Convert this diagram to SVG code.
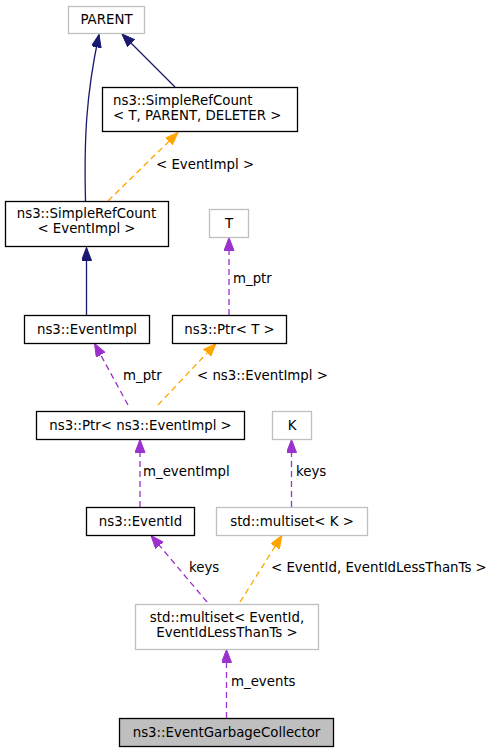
<svg xmlns="http://www.w3.org/2000/svg" width="497" height="752" viewBox="0 0 497 752">
<style>
text{font-family:"DejaVu Sans","Liberation Sans",sans-serif;font-size:13.33px;fill:#000}
.c{text-anchor:middle}
.doc{fill:#fff;stroke:#000;stroke-width:1.3}
.und{fill:#fff;stroke:#bfbfbf;stroke-width:1.3}
.cur{fill:#bfbfbf;stroke:#000;stroke-width:1.3}
.e{fill:none;stroke-width:1.3}
.inh{stroke:#191970}
.tpl{stroke:#ffa500;stroke-dasharray:6,4}
.use{stroke:#9a32cd;stroke-dasharray:6,4}
</style>
<defs>
<marker id="aN" markerUnits="userSpaceOnUse" markerWidth="14" markerHeight="11" refX="13" refY="5" orient="auto"><path d="M0,0L13,5L0,10z" fill="#191970" stroke="#191970"/></marker>
<marker id="aO" markerUnits="userSpaceOnUse" markerWidth="14" markerHeight="11" refX="13" refY="5" orient="auto"><path d="M0,0L13,5L0,10z" fill="#ffa500" stroke="#ffa500"/></marker>
<marker id="aP" markerUnits="userSpaceOnUse" markerWidth="14" markerHeight="11" refX="13" refY="5" orient="auto"><path d="M0,0L13,5L0,10z" fill="#9a32cd" stroke="#9a32cd"/></marker>
</defs>
<rect width="497" height="752" fill="#fff"/>
<g id="connectors">
<path class="e inh" d="M85.5,201 C84,140 86,95 99,34.5" marker-end="url(#aN)"/>
<path class="e inh" d="M175,87 L122,34" marker-end="url(#aN)"/>
<path class="e tpl" d="M108,201 L178,132.5" marker-end="url(#aO)"/>
<text x="156" y="169">&lt; EventImpl &gt;</text>
<path class="e inh" d="M86.5,315 L86.5,247.5" marker-end="url(#aN)"/>
<path class="e use" d="M229,315 L229,237.5" marker-end="url(#aP)"/>
<text x="233" y="283">m_ptr</text>
<path class="e use" d="M128,405 L94.5,343.5" marker-end="url(#aP)"/>
<text x="123" y="380">m_ptr</text>
<path class="e tpl" d="M158,405 L216,343.5" marker-end="url(#aO)"/>
<text x="197" y="380">&lt; ns3::EventImpl &gt;</text>
<path class="e use" d="M140,507 L140,439.5" marker-end="url(#aP)"/>
<text x="143" y="476">m_eventImpl</text>
<path class="e use" d="M291.5,507 L291.5,439.5" marker-end="url(#aP)"/>
<text x="296" y="476">keys</text>
<path class="e use" d="M207,602 L151,535.5" marker-end="url(#aP)"/>
<text x="189" y="572">keys</text>
<path class="e tpl" d="M240,602 L282,535.5" marker-end="url(#aO)"/>
<text x="271" y="572">&lt; EventId, EventIdLessThanTs &gt;</text>
<path class="e use" d="M226.5,718 L226.5,649.5" marker-end="url(#aP)"/>
<text x="231" y="686">m_events</text>
</g>
<g id="node-parent"><rect class="und" x="68.5" y="6.5" width="76" height="27"/><text class="c" x="106.5" y="24">PARENT</text></g>
<g id="node-simplerefcount-t"><rect class="doc" x="102.5" y="87.5" width="195" height="44"/><text x="113" y="104.5">ns3::SimpleRefCount</text><text x="113" y="119.5">&lt; T, PARENT, DELETER &gt;</text></g>
<g id="node-simplerefcount-eventimpl"><rect class="doc" x="5.5" y="201.5" width="163" height="45"/><text class="c" x="86.5" y="218">ns3::SimpleRefCount</text><text class="c" x="86.5" y="233">&lt; EventImpl &gt;</text></g>
<g id="node-t"><rect class="und" x="209.5" y="209.5" width="39" height="28"/><text class="c" x="229" y="227.5">T</text></g>
<g id="node-eventimpl"><rect class="doc" x="24.5" y="315.5" width="125" height="28"/><text class="c" x="87" y="333.5">ns3::EventImpl</text></g>
<g id="node-ptr-t"><rect class="doc" x="172.5" y="315.5" width="114" height="28"/><text class="c" x="229.5" y="333.5">ns3::Ptr&lt; T &gt;</text></g>
<g id="node-ptr-eventimpl"><rect class="doc" x="36.5" y="411.5" width="208" height="28"/><text class="c" x="140.5" y="429.5">ns3::Ptr&lt; ns3::EventImpl &gt;</text></g>
<g id="node-k"><rect class="und" x="272.5" y="411.5" width="39" height="28"/><text class="c" x="292" y="429.5">K</text></g>
<g id="node-eventid"><rect class="doc" x="86.5" y="507.5" width="108" height="28"/><text class="c" x="140.5" y="525.5">ns3::EventId</text></g>
<g id="node-multiset-k"><rect class="und" x="216.5" y="507.5" width="151" height="28"/><text class="c" x="292" y="525.5">std::multiset&lt; K &gt;</text></g>
<g id="node-multiset-eventid"><rect class="und" x="135.5" y="604.5" width="183" height="45"/><text class="c" x="227" y="621.5">std::multiset&lt; EventId,</text><text class="c" x="227" y="636.5">EventIdLessThanTs &gt;</text></g>
<g id="node-eventgarbagecollector"><rect class="cur" x="119.5" y="718.5" width="214" height="28"/><text class="c" x="226.5" y="736.5">ns3::EventGarbageCollector</text></g>
</svg>
